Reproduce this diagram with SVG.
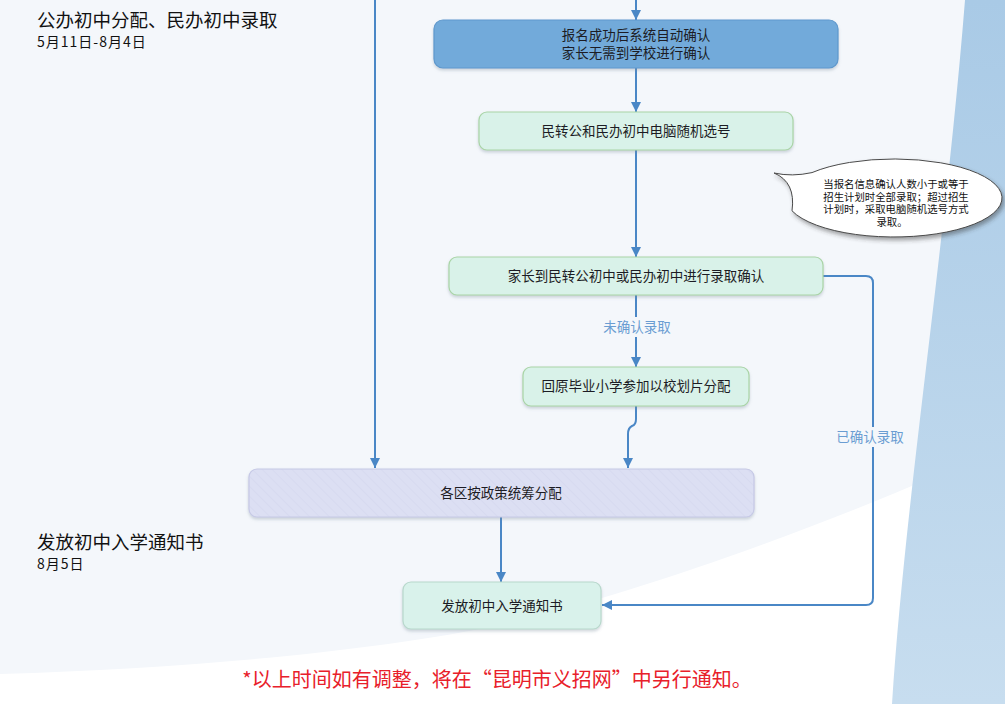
<svg xmlns="http://www.w3.org/2000/svg" width="1005" height="704" viewBox="0 0 1005 704">
<defs>
<linearGradient id="blueBg" x1="0" y1="0" x2="0" y2="1">
<stop offset="0" stop-color="#a9cae6"/>
<stop offset="1" stop-color="#c7ddef"/>
</linearGradient>
<pattern id="hatch" width="7" height="7" patternUnits="userSpaceOnUse" patternTransform="rotate(-45)">
<rect width="7" height="7" fill="#dcdff3"/>
<line x1="0" y1="0" x2="0" y2="7" stroke="#d2d5ed" stroke-width="1"/>
</pattern>
<filter id="sh" x="-10%" y="-20%" width="120%" height="150%">
<feDropShadow dx="0" dy="2" stdDeviation="1.5" flood-color="#7a8a9a" flood-opacity="0.35"/>
</filter>
<filter id="sh2" x="-10%" y="-20%" width="125%" height="160%">
<feDropShadow dx="2" dy="3" stdDeviation="2" flood-color="#333" flood-opacity="0.45"/>
</filter>
<marker id="arr" markerUnits="userSpaceOnUse" markerWidth="10" markerHeight="10" refX="10" refY="5" orient="auto">
<path d="M0,0 L10,5 L0,10 z" fill="#4a87c6"/>
</marker>
<style>
.mint{fill:#d9f2e9;stroke:#a9d4a6;stroke-width:1.2}
.t{font-family:"Noto Sans CJK SC","Noto Sans",sans-serif;font-size:13.5px;fill:#1c1c24;text-anchor:middle}
.h{font-family:"Noto Sans CJK SC","Noto Sans",sans-serif;fill:#111}
.lbl{font-family:"Noto Sans CJK SC","Noto Sans",sans-serif;font-size:13.5px;fill:#6a9dd2;text-anchor:middle}
.c{fill:none;stroke:#4a87c6;stroke-width:2}
.ct{font-family:"Noto Sans CJK SC","Noto Sans",sans-serif;font-size:10.4px;fill:#111;text-anchor:middle}
</style>
</defs>
<!-- background -->
<rect width="1005" height="704" fill="#f4f7fb"/>
<path d="M0,674 C200,668 380,650 500,625 C620,598 800,535 935,476 L905,704 L0,704 Z" fill="#ffffff"/>
<path d="M965,0 C945,250 905,500 892,704 L1005,704 L1005,0 Z" fill="url(#blueBg)"/>

<!-- headings -->
<g id="heading1">
<text class="h" x="37" y="27" font-size="18.5">公办初中分配、民办初中录取</text>
<text class="h" x="37" y="47" font-size="14" letter-spacing="1">5月11日-8月4日</text>
</g>
<g id="heading2">
<text class="h" x="37" y="549" font-size="18.5">发放初中入学通知书</text>
<text class="h" x="37" y="569" font-size="14" letter-spacing="1">8月5日</text>
</g>

<!-- connectors -->
<g id="connectors">
<path class="c" d="M375,0 V468" marker-end="url(#arr)" stroke="#5b8dc2"/>
<path class="c" d="M636,0 V20" marker-end="url(#arr)"/>
<path class="c" d="M636,68 V112" marker-end="url(#arr)"/>
<path class="c" d="M636,150 V257" marker-end="url(#arr)"/>
<path class="c" d="M636,295 V367" marker-end="url(#arr)"/>
<path class="c" d="M636,406 V419 Q636,425 632,426 Q628,428 628,434 V468" marker-end="url(#arr)"/>
<path class="c" d="M501,517 V582" stroke-width="1.5" marker-end="url(#arr)"/>
<path class="c" d="M823,276 H866 Q873,276 873,283 V598 Q873,605 866,605 H602" marker-end="url(#arr)"/>
<rect x="601" y="317" width="72" height="20" fill="#f4f7fb"/>
<text class="lbl" x="637" y="332">未确认录取</text>
<rect x="834" y="427" width="72" height="20" fill="#f4f7fb"/>
<text class="lbl" x="870" y="442">已确认录取</text>
</g>

<!-- nodes -->
<g id="n_auto">
<rect x="434" y="20" width="404" height="48" rx="9" fill="#72aada" stroke="#5e98cd" stroke-width="1.2" filter="url(#sh)"/>
<text class="t" x="636" y="40">报名成功后系统自动确认</text>
<text class="t" x="636" y="58">家长无需到学校进行确认</text>
</g>
<g id="n_random">
<rect class="mint" x="479" y="112" width="314" height="38" rx="8" filter="url(#sh)"/>
<text class="t" x="636" y="136">民转公和民办初中电脑随机选号</text>
</g>
<g id="n_callout">
<path d="M812,172.6 Q792,177 774,173 Q796,182 792,210.8 A108,39 0 1 0 812,172.6 Z" fill="#ffffff" stroke="#4a4a4a" stroke-width="1" filter="url(#sh2)"/>
<text class="ct" x="896" y="188">当报名信息确认人数小于或等于</text>
<text class="ct" x="896" y="200.5">招生计划时全部录取；超过招生</text>
<text class="ct" x="896" y="213">计划时，采取电脑随机选号方式</text>
<text class="ct" x="892" y="225.5">录取。</text>
</g>
<g id="n_confirm">
<rect class="mint" x="449" y="257" width="374" height="38" rx="8" filter="url(#sh)"/>
<text class="t" x="636" y="281">家长到民转公初中或民办初中进行录取确认</text>
</g>
<g id="n_return">
<rect class="mint" x="523" y="367" width="226" height="39" rx="8" filter="url(#sh)"/>
<text class="t" x="636" y="391">回原毕业小学参加以校划片分配</text>
</g>
<g id="n_district">
<rect x="249" y="469" width="505" height="48" rx="8" fill="url(#hatch)" stroke="#c6c9e6" stroke-width="1.2" filter="url(#sh)"/>
<text class="t" x="501" y="498">各区按政策统筹分配</text>
</g>
<g id="n_notice">
<rect x="403" y="582" width="198" height="47" rx="8" fill="#d9f2eb" stroke="#b8d8cc" stroke-width="1.2" filter="url(#sh)"/>
<text class="t" x="502" y="611">发放初中入学通知书</text>
</g>

<!-- footnote -->
<text x="497" y="687" font-family="'Noto Sans CJK SC','Noto Sans',sans-serif" font-size="20" fill="#e8202a" text-anchor="middle">*以上时间如有调整，将在“昆明市义招网”中另行通知。</text>
</svg>
